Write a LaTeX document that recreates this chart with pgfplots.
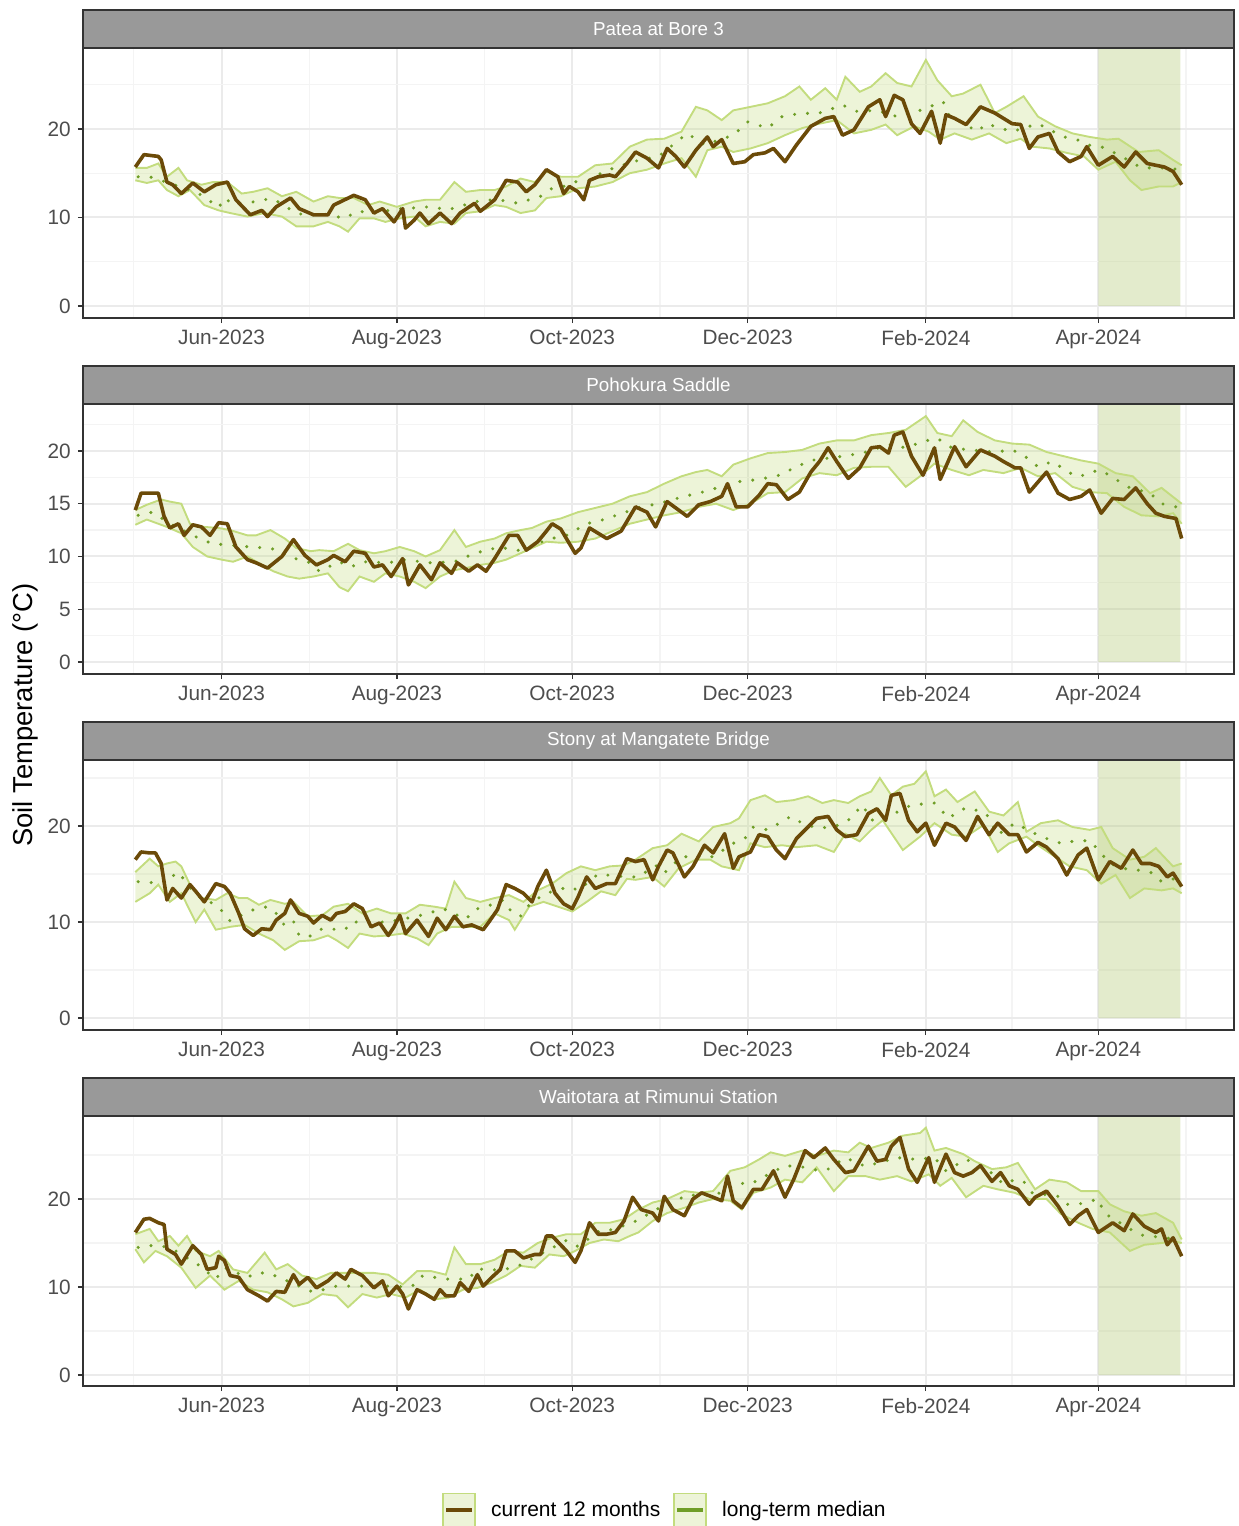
\documentclass[border=0pt]{standalone}
\usepackage{fontspec}
\setmainfont{Liberation Sans}
\usepackage{pgfplots}
\pgfplotsset{compat=1.18}
\usepgfplotslibrary{fillbetween}

\definecolor{curc}{HTML}{6B4A08}
\definecolor{bandedge}{HTML}{C3DC7E}
\definecolor{medc}{HTML}{6F9E27}
\definecolor{shadec}{HTML}{B8CC80}
\definecolor{stripc}{HTML}{999999}
\definecolor{framec}{HTML}{333333}
\definecolor{tickc}{HTML}{4D4D4D}
\definecolor{gmaj}{HTML}{EBEBEB}
\definecolor{gmin}{HTML}{F4F4F4}

\pgfplotsset{
  soil/.style={
    set layers,
    scale only axis, width=575.5pt, height=135pt,
    anchor=north west,
    xmin=-48.2, xmax=352.2,
    % days counted from 1 Jun 2023
    xtick={0,61,122,183,245,305},
    xticklabels={Jun-2023,Aug-2023,Oct-2023,Dec-2023,Feb-2024,Apr-2024},
    minor xtick={-30.5,30.5,91.5,152.5,214,275,335.5},
    grid=both,
    major grid style={gmaj, line width=1pt},
    minor grid style={gmin, line width=0.6pt},
    axis line style={framec, line width=0.7pt},
    tick align=outside, xtick pos=bottom, ytick pos=left,
    major tick length=2.6pt, minor tick length=0pt,
    tick style={framec, line width=0.6pt},
    ticklabel style={font=\fontsize{10.4}{12}\selectfont, text=tickc},
    /pgf/number format/assume math mode=true,
  },
  curst/.style={curc, line width=1.8pt, line join=round, forget plot},
  edge/.style={bandedge, line width=0.95pt, forget plot},
  bandst/.style={fill=bandedge, fill opacity=0.3, draw=none, forget plot},
  med/.style={medc, line width=1.7pt, line cap=round, dash pattern=on 0pt off 6.5pt, forget plot},
  shaderect/.style={draw=none, fill=shadec, fill opacity=0.4, forget plot},
}

\newcommand{\strip}[2]{%
  \draw[fill=stripc, draw=framec, line width=0.7pt] (#1.north west) rectangle ([yshift=19pt]#1.north east);
  \node[text=white, font=\fontsize{9.4}{11}\selectfont] at ([yshift=9.5pt]#1.north) {#2};}

\begin{document}
\begin{tikzpicture}

% ---------------- Patea at Bore 3
\begin{axis}[soil, name=p1, at={(41.5pt,-24pt)}, ymin=-1.36, ymax=29.15,
  ytick={0,10,20}, minor ytick={5,15,25}]
\addplot[shaderect] coordinates {(305,0) (333.5,0) (333.5,40) (305,40) (305,0)};
\addplot[edge, name path=u1] coordinates {(-30,15.6) (-26,15.6) (-22,16.1) (-19,14.6) (-15,15.6) (-12,14.2) (-7,13.7) (-3,14.0) (2,14.0) (7,12.7) (11,12.9) (16,13.3) (21,12.4) (26,12.9) (32,11.8) (37,12.4) (41,12.2) (46,12.2) (51,11.4) (55,11.8) (61,11.2) (67,11.8) (71,12.0) (76,12.0) (81,14.0) (85,12.9) (90,13.1) (95,13.1) (99,13.5) (104,14.4) (109,14.0) (113,15.2) (118,14.6) (124,14.6) (130,15.9) (136,16.1) (142,18.0) (148,18.8) (154,18.9) (160,19.7) (165,22.5) (169,22.1) (174,21.0) (178,22.1) (184,22.5) (190,22.9) (196,23.7) (201,24.8) (205,23.3) (210,24.6) (214,23.3) (217,25.9) (222,24.2) (226,24.8) (231,26.3) (235,25.2) (240,24.8) (245,27.8) (249,25.5) (254,23.7) (258,24.0) (264,25.0) (269,21.8) (273,22.5) (279,23.7) (284,21.4) (290,20.3) (296,19.5) (302,19.1) (308,18.8) (312,18.9) (319,17.4) (326,17.6) (331,16.5) (334,15.9)};
\addplot[edge, name path=l1] coordinates {(-30,14.2) (-26,13.9) (-22,14.2) (-19,13.1) (-15,12.4) (-11,13.1) (-6,11.4) (-1,10.8) (3,10.5) (9,10.1) (15,10.5) (21,10.1) (26,9.0) (32,9.0) (37,9.5) (41,9.0) (44,8.4) (48,9.9) (53,9.9) (57,9.5) (62,9.9) (67,10.1) (71,9.0) (76,9.5) (81,9.3) (85,10.5) (90,10.7) (95,11.4) (99,11.2) (104,10.5) (109,10.8) (113,12.2) (118,12.4) (124,13.3) (130,13.5) (136,14.0) (142,15.0) (148,15.4) (154,16.1) (160,16.7) (165,14.6) (169,17.6) (174,18.0) (178,17.4) (184,17.8) (190,18.4) (196,19.3) (202,20.1) (208,20.6) (214,21.0) (220,19.5) (226,19.9) (231,20.5) (235,19.3) (241,20.3) (246,19.7) (250,18.8) (255,19.5) (261,18.8) (267,19.5) (273,18.4) (278,18.9) (282,18.0) (288,17.8) (294,17.3) (300,16.9) (305,15.4) (311,16.3) (316,14.2) (320,13.1) (326,13.5) (331,13.5) (334,14.0)};
\addplot[bandst] fill between[of=u1 and l1];
\addplot[med] coordinates {(-29,14.6) (-25,14.6) (-9,12.9) (-5,12.1) (-1,11.1) (1,12.2) (4,11.5) (9,11.6) (14,12.0) (18,12.1) (25,10.7) (30,10.1) (34,10.5) (43,9.9) (47,10.7) (55,10.5) (59,10.9) (72,11.2) (79,10.9) (91,12.0) (99,11.9) (103,11.6) (111,12.4) (115,13.3) (119,13.5) (122,14.0) (128,14.2) (133,15.2) (143,16.3) (152,16.9) (162,19.5) (168,18.2) (178,19.3) (183,20.8) (190,20.1) (195,21.4) (202,21.8) (207,21.7) (216,22.7) (221,22.0) (228,22.1) (235,21.4) (243,22.1) (251,23.1) (253,21.6) (263,19.7) (266,20.6) (275,19.7) (284,20.6) (293,19.1) (297,18.9) (301,18.2) (306,18.0) (312,17.1) (320,15.6) (323,15.6) (331,15.6) (334,15.0)};
\addplot[curst] coordinates {(-30,15.7) (-27,17.1) (-22,16.9) (-21,16.5) (-19,14.0) (-17,13.7) (-14,12.7) (-10,13.9) (-6,12.9) (-2,13.7) (2,14.0) (5,12.0) (10,10.3) (14,10.8) (16,10.1) (19,11.2) (24,12.2) (27,11.0) (32,10.3) (37,10.3) (39,11.4) (46,12.5) (50,12.0) (53,10.5) (56,11.0) (60,9.5) (63,11.0) (64,8.8) (67,9.7) (69,10.5) (72,9.3) (76,10.5) (80,9.3) (83,10.5) (88,11.6) (90,10.7) (95,12.0) (99,14.2) (103,14.0) (106,12.9) (109,13.7) (113,15.4) (117,14.6) (119,12.7) (121,13.5) (124,12.9) (126,12.0) (128,14.2) (131,14.6) (135,14.8) (137,14.6) (141,16.1) (144,17.4) (148,16.7) (152,15.6) (155,17.8) (158,16.9) (161,15.7) (165,17.6) (169,19.1) (171,18.0) (174,18.8) (178,16.1) (182,16.3) (185,17.1) (189,17.3) (192,17.8) (196,16.3) (200,18.2) (205,20.3) (210,21.2) (213,21.4) (216,19.3) (220,19.9) (225,22.5) (229,23.3) (231,21.4) (234,23.8) (237,23.3) (240,20.6) (243,19.5) (247,22.0) (250,18.4) (252,21.6) (255,21.2) (259,20.5) (264,22.5) (269,21.8) (275,20.6) (278,20.5) (281,17.8) (284,19.1) (288,19.5) (291,17.4) (295,16.3) (299,16.9) (301,18.0) (305,15.9) (310,16.9) (314,15.7) (318,17.4) (322,16.1) (328,15.7) (331,15.2) (334,13.7)};
\end{axis}
\strip{p1}{Patea at Bore 3}

% ---------------- Pohokura Saddle
\begin{axis}[soil, name=p2, at={(41.5pt,-202pt)}, ymin=-1.14, ymax=24.45,
  ytick={0,5,10,15,20}, minor ytick={2.5,7.5,12.5,17.5,22.5}]
\addplot[shaderect] coordinates {(305,0) (333.5,0) (333.5,40) (305,40) (305,0)};
\addplot[edge, name path=u2] coordinates {(-30,14.4) (-26,14.9) (-21,15.4) (-18,15.2) (-14,15.0) (-11,13.1) (-6,12.8) (-1,12.7) (3,12.5) (9,12.0) (12,12.0) (17,12.5) (22,11.7) (26,10.8) (31,10.5) (34,10.6) (39,10.5) (44,11.2) (48,10.6) (53,10.3) (57,10.5) (62,10.9) (67,10.5) (71,10.0) (76,10.6) (81,12.5) (85,10.9) (90,11.4) (95,11.7) (99,12.2) (104,12.5) (108,12.7) (113,13.3) (118,13.6) (124,14.2) (130,14.6) (136,15.0) (142,15.7) (148,16.1) (154,16.9) (160,17.6) (165,18.0) (169,18.2) (174,17.6) (178,18.7) (184,19.3) (190,19.8) (196,19.9) (202,20.1) (208,20.7) (214,21.0) (220,21.0) (226,21.5) (232,21.7) (238,22.0) (245,23.3) (249,21.7) (254,21.4) (258,22.9) (263,21.8) (269,21.0) (275,20.7) (281,20.6) (287,19.9) (293,19.5) (299,19.1) (305,18.8) (311,17.9) (317,17.6) (323,16.0) (327,16.5) (334,15.0)};
\addplot[edge, name path=l2] coordinates {(-30,13.0) (-26,13.5) (-22,13.1) (-19,12.8) (-14,12.2) (-10,10.9) (-5,10.0) (0,9.7) (4,9.5) (9,10.0) (14,9.2) (18,8.6) (23,8.1) (27,7.9) (32,8.1) (37,8.4) (41,7.1) (44,6.7) (48,8.1) (53,7.6) (57,8.4) (62,8.1) (67,7.6) (71,7.0) (76,8.1) (81,8.7) (85,8.9) (90,9.2) (95,9.4) (99,9.7) (104,10.3) (108,10.8) (113,11.4) (118,11.3) (124,11.4) (130,11.7) (136,12.4) (142,13.1) (148,13.5) (154,13.9) (160,14.2) (166,14.7) (172,15.0) (178,14.4) (184,15.0) (190,16.0) (196,16.1) (202,17.4) (208,17.9) (214,17.7) (220,18.4) (226,18.5) (232,18.5) (238,16.6) (243,17.6) (248,18.8) (254,18.2) (260,17.7) (265,18.2) (272,17.9) (278,18.4) (284,17.6) (290,17.9) (296,16.6) (302,16.1) (308,16.0) (314,14.7) (320,13.9) (326,13.8) (331,14.1) (334,13.1)};
\addplot[bandst] fill between[of=u2 and l2];
\addplot[med] coordinates {(-29,13.9) (-24,14.2) (-18,13.1) (-7,11.6) (-3,11.2) (2,11.1) (10,10.9) (16,10.8) (20,10.6) (23,10.0) (31,9.4) (34,8.6) (41,9.5) (45,9.0) (49,9.5) (58,9.4) (64,9.7) (72,9.4) (81,9.5) (89,10.4) (92,10.5) (96,10.9) (105,10.5) (113,11.6) (120,12.0) (127,13.1) (133,13.5) (146,14.7) (152,15.0) (161,15.7) (166,16.0) (180,17.1) (187,17.3) (194,17.7) (200,18.5) (205,19.1) (216,19.5) (223,19.8) (232,20.6) (238,20.3) (244,20.9) (249,21.2) (254,20.3) (260,20.1) (269,19.9) (275,20.1) (279,19.6) (284,18.5) (289,19.0) (297,17.6) (300,17.7) (305,18.2) (309,17.7) (315,16.6) (323,16.0) (327,15.0) (332,14.7) (334,14.9)};
\addplot[curst] coordinates {(-30,14.4) (-28,16.0) (-22,16.0) (-20,13.8) (-18,12.7) (-15,13.1) (-13,12.0) (-10,13.0) (-7,12.8) (-4,12.0) (-1,13.2) (2,13.1) (5,10.9) (9,9.7) (12,9.4) (16,8.9) (21,10.0) (25,11.6) (29,10.1) (33,9.2) (37,9.7) (39,10.1) (43,9.5) (46,10.5) (50,10.3) (53,9.0) (56,9.2) (59,8.1) (63,9.8) (65,7.3) (69,9.2) (73,7.8) (76,9.4) (80,8.4) (82,9.4) (86,8.6) (89,9.2) (92,8.6) (95,9.8) (100,12.0) (103,12.0) (106,10.6) (110,11.4) (113,12.4) (115,13.1) (118,12.6) (123,10.3) (125,10.8) (128,12.7) (134,11.7) (139,12.4) (144,14.7) (148,14.2) (151,12.8) (155,15.2) (162,13.8) (166,14.9) (170,15.2) (174,15.7) (176,16.9) (179,14.7) (183,14.7) (187,15.8) (190,16.9) (193,16.8) (197,15.4) (201,16.1) (205,18.0) (208,19.0) (211,20.3) (214,19.0) (218,17.4) (222,18.4) (226,20.3) (229,20.4) (232,19.8) (234,21.5) (237,21.8) (240,19.5) (244,17.7) (248,20.3) (250,17.3) (255,20.4) (259,18.5) (264,20.1) (269,19.5) (272,19.0) (276,18.4) (278,18.4) (281,16.1) (287,18.0) (291,16.0) (295,15.4) (299,15.7) (302,16.3) (306,14.1) (310,15.5) (314,15.4) (318,16.5) (322,15.0) (325,14.1) (328,13.8) (332,13.6) (334,11.7)};
\end{axis}
\strip{p2}{Pohokura Saddle}

% ---------------- Stony at Mangatete Bridge
\begin{axis}[soil, name=p3, at={(41.5pt,-380pt)}, ymin=-1.25, ymax=26.88,
  ytick={0,10,20}, minor ytick={5,15,25}]
\addplot[shaderect] coordinates {(305,0) (333.5,0) (333.5,40) (305,40) (305,0)};
\addplot[edge, name path=u3] coordinates {(-30,15.2) (-25,16.6) (-22,15.8) (-19,16.1) (-16,16.3) (-14,15.8) (-11,13.9) (-7,12.5) (-2,12.3) (2,13.0) (6,12.5) (9,12.5) (13,11.8) (17,12.3) (22,11.9) (25,12.1) (30,10.6) (35,10.7) (39,11.6) (44,11.9) (49,10.9) (54,11.4) (59,10.9) (64,10.9) (69,11.8) (74,11.6) (78,11.4) (81,14.2) (85,12.5) (90,12.1) (95,12.5) (100,12.8) (105,12.1) (110,13.3) (115,14.0) (120,15.1) (125,15.8) (130,15.4) (135,15.8) (140,15.9) (144,16.5) (150,17.7) (155,18.0) (160,19.2) (166,18.4) (171,19.9) (177,20.3) (180,20.8) (184,22.7) (189,23.2) (193,22.5) (199,22.7) (204,23.1) (209,22.4) (213,22.7) (218,22.4) (222,23.1) (226,23.6) (229,25.0) (233,23.2) (237,24.1) (241,24.4) (245,25.7) (248,23.1) (252,23.8) (256,22.5) (262,23.6) (267,21.5) (272,21.1) (277,22.5) (280,19.4) (285,20.3) (291,20.6) (296,19.9) (302,19.6) (306,19.9) (310,17.7) (316,16.5) (321,16.8) (325,17.7) (331,15.8) (334,16.1)};
\addplot[edge, name path=l3] coordinates {(-30,12.1) (-25,13.0) (-22,13.9) (-18,12.1) (-14,13.0) (-9,10.0) (-6,11.3) (-2,9.2) (3,9.5) (8,9.7) (13,8.8) (18,8.1) (22,7.1) (27,8.0) (32,8.1) (37,8.6) (40,8.1) (44,7.3) (48,8.8) (53,8.5) (58,8.6) (63,8.8) (68,8.3) (72,7.6) (75,8.8) (80,9.5) (85,9.5) (90,9.5) (95,10.9) (100,10.2) (102,9.2) (107,11.6) (112,12.1) (117,11.6) (122,11.1) (127,12.1) (132,13.2) (137,12.8) (141,14.5) (144,14.4) (150,14.7) (154,13.7) (159,15.6) (165,16.5) (170,16.5) (174,15.8) (180,15.4) (184,18.2) (189,17.8) (195,18.0) (200,17.8) (207,18.0) (213,17.3) (217,19.2) (222,18.4) (226,19.6) (230,20.6) (237,17.5) (243,18.9) (248,20.3) (254,19.1) (259,18.9) (265,20.1) (270,17.3) (274,18.2) (280,18.9) (284,18.0) (290,16.8) (295,15.8) (301,15.4) (306,14.0) (311,14.9) (316,12.5) (321,13.5) (327,13.3) (331,13.5) (334,13.0)};
\addplot[bandst] fill between[of=u3 and l3];
\addplot[med] coordinates {(-29,14.2) (-24,14.1) (-18,14.2) (-16,15.2) (-14,14.8) (-9,12.8) (-4,12.1) (0,11.2) (3,10.1) (10,11.2) (16,11.6) (19,10.9) (22,9.6) (25,10.1) (27,8.6) (30,8.4) (35,9.3) (43,9.2) (45,10.0) (49,10.0) (58,10.0) (71,10.8) (77,11.4) (85,10.3) (88,11.3) (93,11.7) (98,12.3) (101,11.0) (104,10.6) (106,11.5) (112,12.9) (121,13.7) (124,13.3) (131,15.0) (134,14.9) (141,14.7) (145,14.7) (151,15.9) (154,15.1) (160,16.8) (171,16.8) (178,18.2) (182,18.7) (185,19.9) (190,19.6) (194,20.3) (198,21.0) (202,20.3) (207,19.8) (213,19.9) (218,20.6) (223,22.2) (226,20.6) (232,21.0) (240,22.2) (248,22.4) (253,20.8) (257,21.7) (260,21.9) (266,21.3) (270,19.1) (276,20.3) (285,18.9) (292,18.2) (296,18.4) (302,18.5) (305,17.5) (309,16.1) (316,15.4) (320,15.4) (324,15.1) (327,14.2) (334,14.7)};
\addplot[curst] coordinates {(-30,16.5) (-28,17.3) (-25,17.2) (-23,17.2) (-21,16.1) (-19,12.3) (-17,13.5) (-14,12.5) (-11,13.9) (-9,13.2) (-6,12.1) (-2,14.0) (1,13.7) (3,13.0) (6,10.9) (8,9.3) (11,8.6) (14,9.3) (17,9.2) (19,10.2) (22,10.9) (24,12.3) (27,10.9) (30,10.6) (32,9.9) (35,10.7) (38,10.2) (40,10.9) (43,11.1) (46,11.9) (49,11.4) (52,9.5) (55,9.9) (58,8.6) (60,9.5) (62,10.7) (64,8.8) (68,10.2) (72,8.5) (75,10.4) (78,9.2) (81,10.6) (84,9.5) (87,9.7) (91,9.2) (93,10.0) (96,11.3) (99,13.9) (102,13.5) (105,13.0) (108,12.1) (110,13.7) (113,15.4) (116,13.0) (119,11.9) (122,11.4) (124,12.6) (127,14.7) (130,13.5) (134,14.0) (137,14.0) (141,16.6) (144,16.3) (147,16.5) (150,14.4) (152,15.8) (155,17.5) (157,17.2) (161,14.7) (164,15.8) (168,18.0) (171,17.2) (175,19.2) (178,15.6) (180,16.8) (184,17.3) (187,19.1) (190,18.9) (193,17.5) (196,16.6) (200,18.7) (203,19.6) (207,20.8) (211,21.0) (214,19.6) (217,18.9) (221,19.1) (225,21.3) (228,21.8) (231,20.6) (233,23.2) (236,23.4) (239,20.6) (242,19.4) (245,20.3) (248,18.0) (252,20.3) (255,19.9) (259,18.5) (263,21.0) (267,19.1) (270,20.3) (274,19.1) (277,19.1) (280,17.3) (284,18.3) (287,17.8) (291,16.6) (294,14.9) (298,17.0) (301,17.7) (305,14.4) (309,16.3) (313,15.6) (317,17.5) (320,16.1) (323,16.1) (326,15.8) (329,14.7) (331,15.1) (334,13.7)};
\end{axis}
\strip{p3}{Stony at Mangatete Bridge}

% ---------------- Waitotara at Rimunui Station
\begin{axis}[soil, name=p4, at={(41.5pt,-558pt)}, ymin=-1.25, ymax=29.43,
  ytick={0,10,20}, minor ytick={5,15,25},
  legend style={at={(0.5065,-0.459)}, anchor=center, draw=none, fill=none,
    legend columns=2, font=\fontsize{10.5}{12}\selectfont,
    /tikz/every odd column/.append style={column sep=5.5pt},
    /tikz/every even column/.append style={column sep=4.5pt}},
  legend cell align=left]
\addlegendimage{legend image code/.code={
  \draw[draw=bandedge, fill=bandedge, fill opacity=0.3, line width=0.9pt] (0pt,-8.25pt) rectangle (16pt,8.25pt);
  \draw[curc, line width=2pt] (1.5pt,0pt) -- (14.5pt,0pt);}}
\addlegendentry{current 12 months}
\addlegendimage{legend image code/.code={
  \draw[draw=bandedge, fill=bandedge, fill opacity=0.3, line width=0.9pt] (0pt,-8.25pt) rectangle (16pt,8.25pt);
  \draw[medc, line width=2pt] (1.5pt,0pt) -- (14.5pt,0pt);}}
\addlegendentry{long-term median}
\addplot[shaderect] coordinates {(305,0) (333.5,0) (333.5,40) (305,40) (305,0)};
\addplot[edge, name path=u4] coordinates {(-30,16.0) (-25,16.6) (-22,15.2) (-18,15.8) (-15,14.7) (-12,15.8) (-9,14.1) (-4,13.5) (-1,14.1) (4,12.0) (9,11.6) (15,13.9) (19,12.0) (23,12.6) (28,11.3) (33,10.9) (38,11.6) (43,11.6) (48,11.6) (53,11.6) (58,11.4) (63,10.3) (68,11.8) (73,11.8) (78,11.4) (81,14.5) (85,12.6) (90,12.6) (95,13.1) (100,14.1) (105,13.9) (110,15.0) (115,15.6) (120,16.0) (125,16.0) (130,17.3) (135,17.3) (140,17.7) (145,18.8) (150,19.6) (155,20.0) (161,20.9) (166,20.7) (171,20.9) (177,23.2) (182,23.6) (187,24.5) (191,25.3) (196,24.9) (202,25.5) (207,24.9) (213,25.5) (218,25.3) (222,26.4) (226,25.8) (232,26.4) (237,27.2) (243,27.5) (245,28.1) (248,25.5) (252,25.8) (258,25.1) (262,24.3) (268,23.4) (273,23.6) (277,24.1) (283,21.1) (288,22.2) (294,21.9) (299,20.9) (305,20.9) (309,19.4) (314,18.6) (320,18.1) (325,18.4) (331,17.3) (334,15.4)};
\addplot[edge, name path=l4] coordinates {(-30,14.3) (-27,12.8) (-23,14.1) (-19,13.5) (-14,12.2) (-9,9.9) (-4,11.3) (1,9.7) (6,10.7) (11,9.7) (16,9.4) (21,8.6) (25,7.8) (30,8.2) (35,9.2) (40,9.0) (44,7.7) (49,9.2) (54,8.8) (59,9.2) (64,8.8) (69,9.7) (74,8.6) (79,8.8) (84,9.7) (89,9.9) (94,10.5) (99,11.3) (104,12.4) (109,12.2) (114,13.7) (119,13.5) (123,14.1) (128,15.0) (133,15.4) (138,15.2) (142,15.8) (145,16.2) (150,17.5) (155,18.4) (161,19.0) (166,19.6) (171,20.0) (177,19.8) (181,18.8) (185,20.7) (191,21.3) (196,22.2) (202,21.9) (207,23.6) (213,20.9) (218,22.6) (224,22.6) (229,22.2) (235,22.6) (240,22.0) (246,22.8) (250,21.5) (254,22.4) (259,20.2) (265,21.5) (270,21.1) (276,20.7) (281,20.0) (287,20.0) (292,18.3) (298,17.3) (303,16.6) (309,16.2) (316,14.1) (321,14.8) (327,15.0) (331,15.2) (334,15.0)};
\addplot[bandst] fill between[of=u4 and l4];
\addplot[med] coordinates {(-29,14.5) (-26,14.7) (-21,14.7) (-16,14.1) (-8,12.5) (-2,10.9) (1,12.2) (9,11.1) (12,11.6) (16,11.6) (20,11.1) (32,9.4) (40,10.1) (48,10.1) (58,10.1) (66,10.0) (70,11.3) (74,11.1) (78,10.9) (81,10.9) (86,10.9) (89,12.1) (93,11.9) (100,12.1) (104,12.5) (113,14.1) (120,15.3) (124,14.6) (132,16.5) (136,16.5) (145,17.6) (151,18.8) (158,19.6) (161,20.4) (172,20.5) (180,21.8) (184,21.7) (196,23.8) (203,23.6) (208,23.2) (211,23.4) (217,24.7) (224,23.7) (235,24.7) (242,24.5) (248,24.7) (252,23.2) (259,24.5) (267,23.2) (272,21.7) (276,22.2) (279,22.0) (282,20.7) (291,20.3) (294,19.4) (298,19.4) (305,20.0) (307,18.4) (318,16.2) (320,15.9) (333,15.4)};
\addplot[curst] coordinates {(-30,16.2) (-27,17.7) (-25,17.8) (-22,17.3) (-20,17.1) (-19,14.3) (-16,13.7) (-14,12.6) (-10,14.7) (-7,13.7) (-5,12.0) (-2,12.2) (-1,13.5) (1,13.0) (3,11.3) (6,11.1) (9,9.7) (13,9.0) (16,8.4) (19,9.5) (22,9.4) (25,11.4) (27,10.3) (30,11.1) (33,9.9) (37,10.7) (40,11.6) (43,10.9) (45,12.0) (49,11.3) (53,9.9) (56,10.7) (58,9.0) (61,10.1) (63,9.2) (65,7.5) (68,9.7) (71,9.2) (74,8.6) (76,9.7) (78,9.0) (81,9.0) (83,10.5) (86,9.5) (89,11.4) (91,10.1) (94,11.1) (97,12.0) (99,14.1) (102,14.1) (105,13.3) (109,13.7) (111,13.7) (113,15.8) (115,15.8) (120,14.1) (123,12.8) (125,14.1) (128,17.3) (131,16.0) (134,16.0) (137,16.2) (140,17.5) (143,20.2) (146,18.8) (150,18.4) (152,17.5) (154,20.3) (157,18.8) (161,18.1) (164,20.0) (167,20.7) (171,20.2) (174,19.8) (176,22.6) (178,19.8) (181,19.0) (185,21.1) (188,21.1) (192,23.2) (196,20.2) (199,22.2) (203,25.5) (206,24.7) (210,25.8) (213,24.5) (217,23.0) (220,23.2) (225,26.0) (228,24.3) (231,24.5) (233,26.0) (236,27.0) (239,23.4) (242,21.9) (246,24.7) (248,21.9) (252,25.1) (255,23.0) (258,22.6) (261,23.0) (264,23.8) (268,22.0) (271,23.0) (274,21.5) (277,21.1) (281,19.4) (283,20.2) (287,20.9) (291,19.2) (295,17.1) (298,18.1) (301,18.8) (305,16.2) (310,17.3) (314,16.4) (317,18.3) (321,16.9) (325,16.2) (327,16.6) (329,14.8) (331,15.6) (334,13.5)};
\end{axis}
\strip{p4}{Waitotara at Rimunui Station}

\node[rotate=90, font=\fontsize{13.7}{16}\selectfont] at (12.5pt,-357.5pt) {Soil Temperature (°C)};

\pgfresetboundingbox
\path[use as bounding box] (0,0) rectangle (619pt,-763pt);
\end{tikzpicture}
\end{document}
